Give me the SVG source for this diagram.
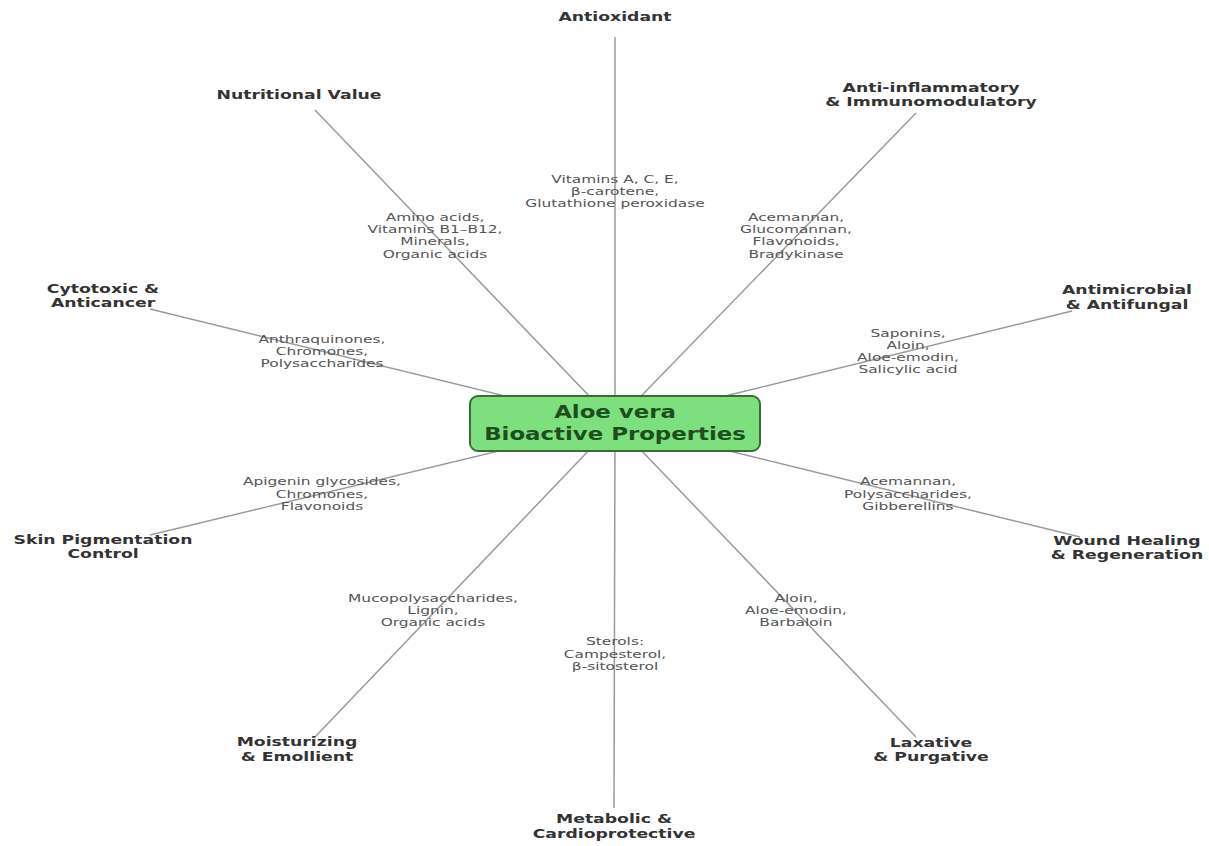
<svg xmlns="http://www.w3.org/2000/svg" width="1209" height="846" viewBox="0 0 1209 846">
<style>
.edge{stroke:#9a9a9a;stroke-width:1.5;fill:none}
.nl{font-family:"DejaVu Sans",sans-serif;font-weight:bold;font-size:12.5px;fill:#333;text-anchor:middle;dominant-baseline:central}
.el{font-family:"DejaVu Sans",sans-serif;font-size:11px;fill:#555;text-anchor:middle;dominant-baseline:central}
.ct{font-family:"DejaVu Sans",sans-serif;font-weight:bold;font-size:18px;fill:#1e4d1e;text-anchor:middle;dominant-baseline:central}
</style>
<rect width="1209" height="846" fill="#fff"/>
<g id="connectors">
<line class="edge" x1="615" y1="37" x2="615" y2="423"/>
<line class="edge" x1="315" y1="110" x2="615" y2="423"/>
<line class="edge" x1="916" y1="113" x2="615" y2="423"/>
<line class="edge" x1="150" y1="309" x2="615" y2="423"/>
<line class="edge" x1="1072" y1="311" x2="615" y2="423"/>
<line class="edge" x1="150" y1="535" x2="615" y2="423"/>
<line class="edge" x1="1080" y1="537" x2="615" y2="423"/>
<line class="edge" x1="315" y1="737" x2="615" y2="423"/>
<line class="edge" x1="916" y1="737" x2="615" y2="423"/>
<line class="edge" x1="614" y1="808" x2="615" y2="423"/>
</g>
<g id="edge-labels">
<g transform="translate(615,0) scale(1.4,1)"><text class="el"><tspan x="0" y="179">Vitamins A, C, E,</tspan><tspan x="0" y="191">β-carotene,</tspan><tspan x="0" y="203">Glutathione peroxidase</tspan></text></g>
<g transform="translate(435,0) scale(1.4,1)"><text class="el"><tspan x="0" y="217">Amino acids,</tspan><tspan x="0" y="229">Vitamins B1–B12,</tspan><tspan x="0" y="241">Minerals,</tspan><tspan x="0" y="254">Organic acids</tspan></text></g>
<g transform="translate(796,0) scale(1.4,1)"><text class="el"><tspan x="0" y="217">Acemannan,</tspan><tspan x="0" y="229">Glucomannan,</tspan><tspan x="0" y="241">Flavonoids,</tspan><tspan x="0" y="254">Bradykinase</tspan></text></g>
<g transform="translate(322,0) scale(1.4,1)"><text class="el"><tspan x="0" y="339">Anthraquinones,</tspan><tspan x="0" y="351">Chromones,</tspan><tspan x="0" y="363">Polysaccharides</tspan></text></g>
<g transform="translate(908,0) scale(1.4,1)"><text class="el"><tspan x="0" y="333">Saponins,</tspan><tspan x="0" y="345">Aloin,</tspan><tspan x="0" y="357">Aloe-emodin,</tspan><tspan x="0" y="369">Salicylic acid</tspan></text></g>
<g transform="translate(322,0) scale(1.4,1)"><text class="el"><tspan x="0" y="481">Apigenin glycosides,</tspan><tspan x="0" y="494">Chromones,</tspan><tspan x="0" y="506">Flavonoids</tspan></text></g>
<g transform="translate(908,0) scale(1.4,1)"><text class="el"><tspan x="0" y="481">Acemannan,</tspan><tspan x="0" y="494">Polysaccharides,</tspan><tspan x="0" y="506">Gibberellins</tspan></text></g>
<g transform="translate(433,0) scale(1.4,1)"><text class="el"><tspan x="0" y="598">Mucopolysaccharides,</tspan><tspan x="0" y="610">Lignin,</tspan><tspan x="0" y="622">Organic acids</tspan></text></g>
<g transform="translate(615,0) scale(1.4,1)"><text class="el"><tspan x="0" y="641">Sterols:</tspan><tspan x="0" y="654">Campesterol,</tspan><tspan x="0" y="666">β-sitosterol</tspan></text></g>
<g transform="translate(796,0) scale(1.4,1)"><text class="el"><tspan x="0" y="598">Aloin,</tspan><tspan x="0" y="610">Aloe-emodin,</tspan><tspan x="0" y="622">Barbaloin</tspan></text></g>
</g>
<g id="center">
<rect x="470" y="396" width="290" height="55" rx="8" ry="8" fill="#7ddf7d" stroke="#3a6b3a" stroke-width="2"/>
<g transform="translate(615,0) scale(1.27,1)"><text class="ct"><tspan x="0" y="412">Aloe vera</tspan><tspan x="0" y="434">Bioactive Properties</tspan></text></g>
</g>
<g id="antioxidant" transform="translate(615,0) scale(1.38,1)"><text class="nl"><tspan x="0" y="17">Antioxidant</tspan></text></g>
<g id="nutritional" transform="translate(299,0) scale(1.38,1)"><text class="nl"><tspan x="0" y="95">Nutritional Value</tspan></text></g>
<g id="antiinflammatory" transform="translate(931,0) scale(1.38,1)"><text class="nl"><tspan x="0" y="88">Anti-inflammatory</tspan><tspan x="0" y="102">&amp; Immunomodulatory</tspan></text></g>
<g id="cytotoxic" transform="translate(103,0) scale(1.38,1)"><text class="nl"><tspan x="0" y="289">Cytotoxic &amp;</tspan><tspan x="0" y="303">Anticancer</tspan></text></g>
<g id="antimicrobial" transform="translate(1127,0) scale(1.38,1)"><text class="nl"><tspan x="0" y="290">Antimicrobial</tspan><tspan x="0" y="305">&amp; Antifungal</tspan></text></g>
<g id="skin" transform="translate(103,0) scale(1.38,1)"><text class="nl"><tspan x="0" y="540">Skin Pigmentation</tspan><tspan x="0" y="554">Control</tspan></text></g>
<g id="wound" transform="translate(1127,0) scale(1.38,1)"><text class="nl"><tspan x="0" y="541">Wound Healing</tspan><tspan x="0" y="555">&amp; Regeneration</tspan></text></g>
<g id="moisturizing" transform="translate(297,0) scale(1.38,1)"><text class="nl"><tspan x="0" y="742">Moisturizing</tspan><tspan x="0" y="757">&amp; Emollient</tspan></text></g>
<g id="laxative" transform="translate(931,0) scale(1.38,1)"><text class="nl"><tspan x="0" y="743">Laxative</tspan><tspan x="0" y="757">&amp; Purgative</tspan></text></g>
<g id="metabolic" transform="translate(614,0) scale(1.38,1)"><text class="nl"><tspan x="0" y="819">Metabolic &amp;</tspan><tspan x="0" y="834">Cardioprotective</tspan></text></g>
</svg>
